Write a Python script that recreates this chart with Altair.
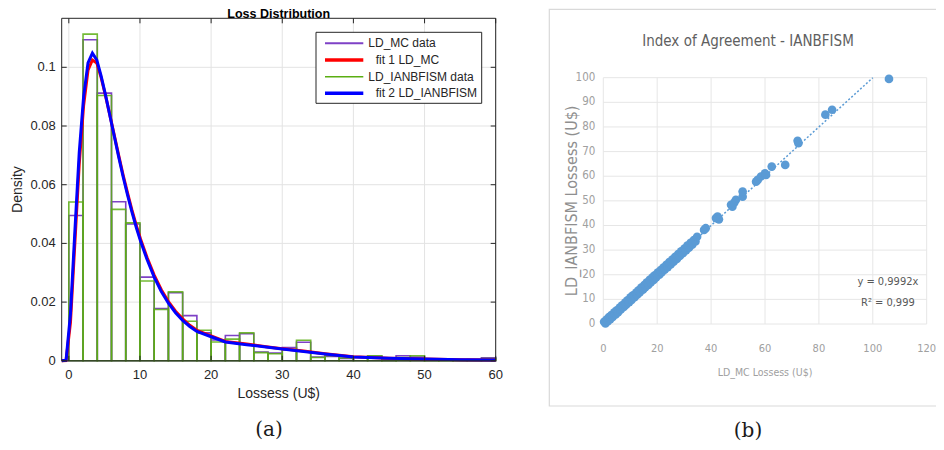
import altair as alt
import pandas as pd

# ---------------- panel (a): histogram data ----------------
bin_lo = [0, 2, 4, 6, 8, 10, 12, 14, 16, 18, 20, 22, 24, 26, 28, 30, 32, 34, 36, 38,
          40, 42, 44, 46, 48, 50, 52, 54, 56, 58]
bin_hi = [2, 4, 6, 8, 10, 12, 14, 16, 18, 20, 22, 24, 26, 28, 30, 32, 34, 36, 38, 40,
          42, 44, 46, 48, 50, 52, 54, 56, 58, 60]
mc_density = [0.0495, 0.1094, 0.0912, 0.0542, 0.0466, 0.0285, 0.0178, 0.0232, 0.0154, 0.0095,
              0.0071, 0.0086, 0.0092, 0.0030, 0.0026, 0.0045, 0.0063, 0.0013, 0.0015, 0.0008,
              0.0012, 0.0015, 0.0003, 0.0017, 0.0013, 0.0005, 0.0002, 0.0002, 0.0004, 0.0010]
ia_density = [0.0541, 0.1113, 0.0904, 0.0516, 0.0470, 0.0272, 0.0175, 0.0235, 0.0135, 0.0104,
              0.0064, 0.0074, 0.0095, 0.0028, 0.0024, 0.0038, 0.0070, 0.0011, 0.0017, 0.0010,
              0.0012, 0.0017, 0.0002, 0.0011, 0.0017, 0.0004, 0.0004, 0.0003, 0.0004, 0.0008]

fit_x = [-1.0, -0.384, 0.232, 0.848, 1.465, 2.081, 2.697, 3.313, 3.929, 4.545, 5.162, 5.778,
         6.394, 7.010, 7.626, 8.242, 8.859, 9.475, 10.091, 11, 12, 13, 14, 15, 16, 17, 18,
         20, 22, 25, 28, 30, 33, 36, 40, 45, 50, 55, 60]
fit1_mc = [0.0, 0.0001, 0.013, 0.040, 0.067, 0.087, 0.0990, 0.1025, 0.1015, 0.0965, 0.0903,
           0.0836, 0.0768, 0.0700, 0.0634, 0.0573, 0.0515, 0.0462, 0.0414, 0.0352, 0.0292,
           0.0242, 0.0202, 0.0169, 0.0143, 0.0121, 0.0104, 0.0085, 0.0066, 0.0057, 0.0047,
           0.0041, 0.0033, 0.0024, 0.0014, 0.0009, 0.0006, 0.0004, 0.0003]
fit2_ia = [0.0, 0.0002, 0.016, 0.044, 0.071, 0.090, 0.1015, 0.1048, 0.1025, 0.0970, 0.0905,
           0.0835, 0.0765, 0.0695, 0.0628, 0.0566, 0.0508, 0.0455, 0.0407, 0.0345, 0.0285,
           0.0236, 0.0196, 0.0164, 0.0138, 0.0117, 0.0100, 0.0082, 0.0064, 0.0055, 0.0046,
           0.0040, 0.0032, 0.0023, 0.0013, 0.0009, 0.0006, 0.0004, 0.0003]

a_x_ticks = [0, 10, 20, 30, 40, 50, 60]
a_y_ticks = [0, 0.02, 0.04, 0.06, 0.08, 0.1]

legend_labels = ["LD_MC data", "fit 1 LD_MC", "LD_IANBFISM data", "fit 2 LD_IANBFISM"]
legend_indent = [0, 1, 0, 1]
legend_rows = [0, 1, 2, 3]

# ---------------- panel (b): scatter data ----------------
mc_loss = [0.3, 0.8, 1.2, 1.7, 2.1, 2.6, 3.0, 3.5, 4.1, 4.6, 5.0, 5.5, 6.1, 6.5, 7.0, 7.6, 8.1,
           8.5, 9.0, 9.6, 10.1, 10.5, 11.0, 11.6, 12.2, 12.6, 13.1, 13.5, 14.1, 14.7, 15.2, 15.6,
           16.1, 16.7, 17.2, 17.6, 18.2, 18.7, 19.1, 19.6, 20.2, 20.8, 21.3, 21.7, 22.3, 22.8,
           23.4, 23.9, 24.5, 25.0, 25.6, 26.1, 26.7, 27.3, 27.8, 28.4, 28.9, 29.5, 30.1, 30.7,
           31.2, 31.8, 32.4, 33.0, 33.6, 34.2, 34.8,
           37.4, 38.0, 41.8, 42.4, 42.9, 47.4, 47.9, 48.6, 49.2, 51.7, 51.7, 56.7, 57.3, 58.5,
           60.0, 60.4, 62.5, 67.5, 72.1, 72.4, 82.4, 84.9, 106.0]
ia_loss = [0.9, 0.2, 1.8, 1.1, 2.8, 2.0, 3.6, 2.9, 4.7, 3.9, 5.6, 4.8, 6.7, 5.9, 7.6, 6.9, 8.7,
           7.8, 9.6, 8.9, 10.8, 9.8, 11.6, 10.9, 12.8, 11.9, 13.7, 12.8, 14.8, 13.9, 15.8, 14.9,
           16.8, 15.9, 17.9, 16.9, 18.9, 17.9, 19.8, 18.9, 20.9, 20.0, 21.9, 21.0, 22.9, 22.1,
           24.0, 23.1, 25.1, 24.2, 26.2, 25.3, 27.3, 26.4, 28.4, 27.6, 29.5, 28.7, 30.6, 29.9,
           31.8, 31.0, 33.0, 32.2, 34.1, 33.5, 35.4,
           38.2, 38.9, 43.0, 43.6, 42.5, 48.4, 47.6, 49.3, 50.4, 51.7, 53.8, 57.8, 58.5, 59.9,
           61.2, 60.5, 63.9, 64.6, 74.4, 73.4, 85.0, 87.0, 99.5]
trend_x = [0, 100]
trend_y = [0, 100]
b_x_ticks = [0, 20, 40, 60, 80, 100, 120]
b_y_ticks = [0, 10, 20, 30, 40, 50, 60, 70, 80, 90, 100]
eq_labels = ["y = 0,9992x", "R\u00b2 = 0,999"]
eq_x = [105.6, 105.6]
eq_y = [17.2, 8.4]

# ---------------- styling / layout ----------------
W, H = 928, 434
PURPLE, RED, GREEN, BLUE = "#7E41C6", "#FF0000", "#5AAE12", "#0000FF"
XL_BLUE = "#5B9BD5"
SANS = "Liberation Sans"
NARROW = "Liberation Sans Narrow, DejaVu Sans Condensed, sans-serif"
A_X_RANGE = [53.7, 487.7]
A_Y_RANGE = [352.8, 10.3]
B_X_RANGE = [595.3, 918.7]
B_Y_RANGE = [316.0, 69.7]
legend_colors = [PURPLE, RED, GREEN, BLUE]
legend_widths = [2, 3.5, 1.5, 3.5]
A_TOP = 0.1167

hist = pd.DataFrame({"lo": bin_lo, "hi": bin_hi, "mc": mc_density, "ia": ia_density})
fits = pd.DataFrame({"x": fit_x, "f1": fit1_mc, "f2": fit2_ia})
one = pd.DataFrame({"k": [0]})
ytk = pd.DataFrame({"v": a_y_ticks})
xtk = pd.DataFrame({"v": a_x_ticks})
bxt = pd.DataFrame({"v": b_x_ticks})
byt = pd.DataFrame({"v": b_y_ticks})
leg = pd.DataFrame({"row": legend_rows, "label": legend_labels, "ind": legend_indent,
                    "color": legend_colors, "w": legend_widths})
sc = pd.DataFrame({"mc": mc_loss, "ia": ia_loss})
tr = pd.DataFrame({"x": trend_x, "y": trend_y})
eq = pd.DataFrame({"x": eq_x, "y": eq_y, "t": eq_labels})


def sxa():
    return alt.Scale(domain=[-1, 60], range=A_X_RANGE, nice=False, zero=False)


def sya():
    return alt.Scale(domain=[0, A_TOP], range=A_Y_RANGE, nice=False, zero=False)


def sxb():
    return alt.Scale(domain=[0, 120], range=B_X_RANGE, nice=False, zero=False)


def syb():
    return alt.Scale(domain=[0, 100], range=B_Y_RANGE, nice=False, zero=False)


def XA(f):
    return alt.X(f, type="quantitative", scale=sxa(), axis=None)


def YA(f):
    return alt.Y(f, type="quantitative", scale=sya(), axis=None)


def XAd(v):
    return alt.XDatum(v, type="quantitative", scale=sxa(), axis=None)


def YAd(v):
    return alt.YDatum(v, type="quantitative", scale=sya(), axis=None)


def XB(f):
    return alt.X(f, type="quantitative", scale=sxb(), axis=None)


def YB(f):
    return alt.Y(f, type="quantitative", scale=syb(), axis=None)


def XBd(v):
    return alt.XDatum(v, type="quantitative", scale=sxb(), axis=None)


def YBd(v):
    return alt.YDatum(v, type="quantitative", scale=syb(), axis=None)


# ---- panel (a) ----
DARK = "#262626"
grid_ax = alt.Chart(xtk).mark_rule(color="#e3e3e3", strokeWidth=1).encode(
    x=XA("v"), y=YAd(0), y2=alt.Y2Datum(A_TOP))
grid_ay = alt.Chart(ytk).mark_rule(color="#e3e3e3", strokeWidth=1).encode(
    y=YA("v"), x=XAd(-1), x2=alt.X2Datum(60))
lab_ax = alt.Chart(xtk).mark_text(font=SANS, fontSize=13, color=DARK, baseline="top",
                                  dy=8).encode(x=XA("v"), y=YAd(0), text=alt.Text("v:Q", format="d"))
lab_ay = alt.Chart(ytk).mark_text(font=SANS, fontSize=13, color=DARK, align="right",
                                  baseline="middle", dx=-6).encode(
    y=YA("v"), x=XAd(-1), text=alt.Text("v:Q", format=".2~f"))
ttl_ax = alt.Chart(one).mark_text(text="Lossess (U$)", font=SANS, fontSize=14, color=DARK,
                                  baseline="middle", dy=33.5).encode(x=XAd(29.5), y=YAd(0))
ttl_ay = alt.Chart(one).mark_text(text="Density", font=SANS, fontSize=14, color=DARK,
                                  baseline="middle", angle=270, dy=-44.2).encode(
    x=XAd(-1), y=YAd(A_TOP / 2))
bars_mc = alt.Chart(hist).mark_rect(fillOpacity=0, stroke=PURPLE, strokeWidth=1.6).encode(
    x=XA("lo"), x2="hi:Q", y=YA("mc"), y2=alt.Y2Datum(0))
bars_ia = alt.Chart(hist).mark_rect(fillOpacity=0, stroke=GREEN, strokeWidth=1.6,
                                    strokeOpacity=0.85).encode(
    x=XA("lo"), x2="hi:Q", y=YA("ia"), y2=alt.Y2Datum(0))
line1 = alt.Chart(fits).mark_line(color=RED, strokeWidth=3).encode(x=XA("x"), y=YA("f1"))
line2 = alt.Chart(fits).mark_line(color=BLUE, strokeWidth=3).encode(x=XA("x"), y=YA("f2"))
tick_l = alt.Chart(ytk).mark_rule(color=DARK, x2Offset=5).encode(
    x=XAd(-1), x2=alt.X2Datum(-1), y=YA("v"))
tick_r = alt.Chart(ytk).mark_rule(color=DARK, x2Offset=-5).encode(
    x=XAd(60), x2=alt.X2Datum(60), y=YA("v"))
tick_t = alt.Chart(xtk).mark_rule(color=DARK, y2Offset=5).encode(
    y=YAd(A_TOP), y2=alt.Y2Datum(A_TOP), x=XA("v"))
tick_b = alt.Chart(xtk).mark_rule(color=DARK, y2Offset=-5).encode(
    y=YAd(0), y2=alt.Y2Datum(0), x=XA("v"))
frame = alt.Chart(one).mark_rect(fillOpacity=0, stroke=DARK, strokeWidth=1).encode(
    x=XAd(-1), x2=alt.X2Datum(60), y=YAd(0), y2=alt.Y2Datum(A_TOP))
title_a = alt.Chart(one).mark_text(text="Loss Distribution", font=SANS, fontSize=12.5,
                                   fontWeight="bold", color="#000000", baseline="alphabetic",
                                   dy=-0.8).encode(x=XAd(29.5), y=YAd(A_TOP))
panel_a = alt.layer(grid_ax, grid_ay, lab_ax, lab_ay, ttl_ax, ttl_ay, bars_mc, bars_ia,
                    line1, line2, tick_l, tick_r, tick_t, tick_b, frame, title_a)

# ---- legend for panel (a) ----
ROW = alt.Y("row:Q", scale=alt.Scale(domain=[0, 3], range=[35.3, 85.3], nice=False, zero=False),
            axis=None)
IND = alt.X("ind:Q", scale=alt.Scale(domain=[0, 1], range=[360.3, 367.7], nice=False, zero=False),
            axis=None)
leg_box = alt.Chart(one).mark_rect(fill="white", stroke=DARK, strokeWidth=1).encode(
    x=alt.value(308), x2=alt.value(473.7), y=alt.value(24.3), y2=alt.value(95.3))
leg_lines = alt.Chart(leg).mark_rule().encode(
    x=alt.value(317), x2=alt.value(355.3), y=ROW,
    color=alt.Color("color:N", scale=None),
    strokeWidth=alt.StrokeWidth("w:Q", scale=None))
leg_text = alt.Chart(leg).mark_text(align="left", baseline="middle", font=SANS, fontSize=12,
                                    color=DARK).encode(x=IND, y=ROW, text="label:N")
legend_a = alt.layer(leg_box, leg_lines, leg_text)

# ---- panel (b) ----
BGRID = "#e6e6e6"
BLAB = "#a0a0a0"
grid_bx = alt.Chart(bxt).mark_rule(color=BGRID, strokeWidth=1).encode(
    x=XB("v"), y=YBd(0), y2=alt.Y2Datum(100))
grid_by = alt.Chart(byt).mark_rule(color=BGRID, strokeWidth=1).encode(
    y=YB("v"), x=XBd(0), x2=alt.X2Datum(120))
lab_bx = alt.Chart(bxt).mark_text(font=NARROW, fontSize=11, color=BLAB, baseline="top",
                                  dy=19).encode(x=XB("v"), y=YBd(0), text=alt.Text("v:Q", format="d"))
lab_by = alt.Chart(byt).mark_text(font=NARROW, fontSize=11.5, color=BLAB, align="right",
                                  baseline="middle", dx=-8).encode(
    y=YB("v"), x=XBd(0), text=alt.Text("v:Q", format="d"))
ttl_bx = alt.Chart(one).mark_text(text="LD_MC Lossess (U$)", font=NARROW, fontSize=10.5,
                                  color=BLAB, baseline="middle", dy=49).encode(
    x=XBd(60), y=YBd(0))
ttl_by = alt.Chart(one).mark_text(text="LD_IANBFISM Lossess (U$)", font=NARROW, fontSize=16,
                                  color="#8f8f8f", baseline="middle", angle=270, dy=-31.3).encode(
    x=XBd(0), y=YBd(50))
pts = alt.Chart(sc).mark_circle(size=75, color=XL_BLUE, opacity=1).encode(x=XB("mc"), y=YB("ia"))
trend = alt.Chart(tr).mark_line(color=XL_BLUE, strokeWidth=1.5, strokeDash=[2, 2]).encode(
    x=XB("x"), y=YB("y"))
eqs = alt.Chart(eq).mark_text(font=NARROW, fontSize=11, color="#595959", baseline="middle").encode(
    x=XB("x"), y=YB("y"), text="t:N")
panel_b = alt.layer(grid_bx, grid_by, lab_bx, lab_by, ttl_bx, ttl_by, pts, trend, eqs)

title_b = alt.Chart(one).mark_text(text="Index of Agreement - IANBFISM", font=NARROW, fontSize=15,
                                   color="#606060", baseline="middle").encode(
    x=alt.value(740), y=alt.value(32.5))
border_b = alt.Chart(one).mark_rect(fillOpacity=0, stroke="#d9d9d9", strokeWidth=1.2).encode(
    x=alt.value(541.3), x2=alt.value(940), y=alt.value(1.3), y2=alt.value(398))

cap_a = alt.Chart(one).mark_text(text="(a)", font="DejaVu Serif", fontSize=20, color="#1a1a1a",
                                 baseline="middle").encode(x=alt.value(261), y=alt.value(422))
cap_b = alt.Chart(one).mark_text(text="(b)", font="DejaVu Serif", fontSize=20, color="#1a1a1a",
                                 baseline="middle").encode(x=alt.value(740), y=alt.value(423))

chart = alt.layer(border_b, panel_b, title_b, panel_a, legend_a, cap_a, cap_b).resolve_scale(
    x="independent", y="independent"
).properties(
    width=W, height=H, padding=0, autosize=alt.AutoSizeParams(type="none")
).configure_view(stroke=None)

chart.save("out.html", embed_options={"renderer": "svg", "actions": False})
